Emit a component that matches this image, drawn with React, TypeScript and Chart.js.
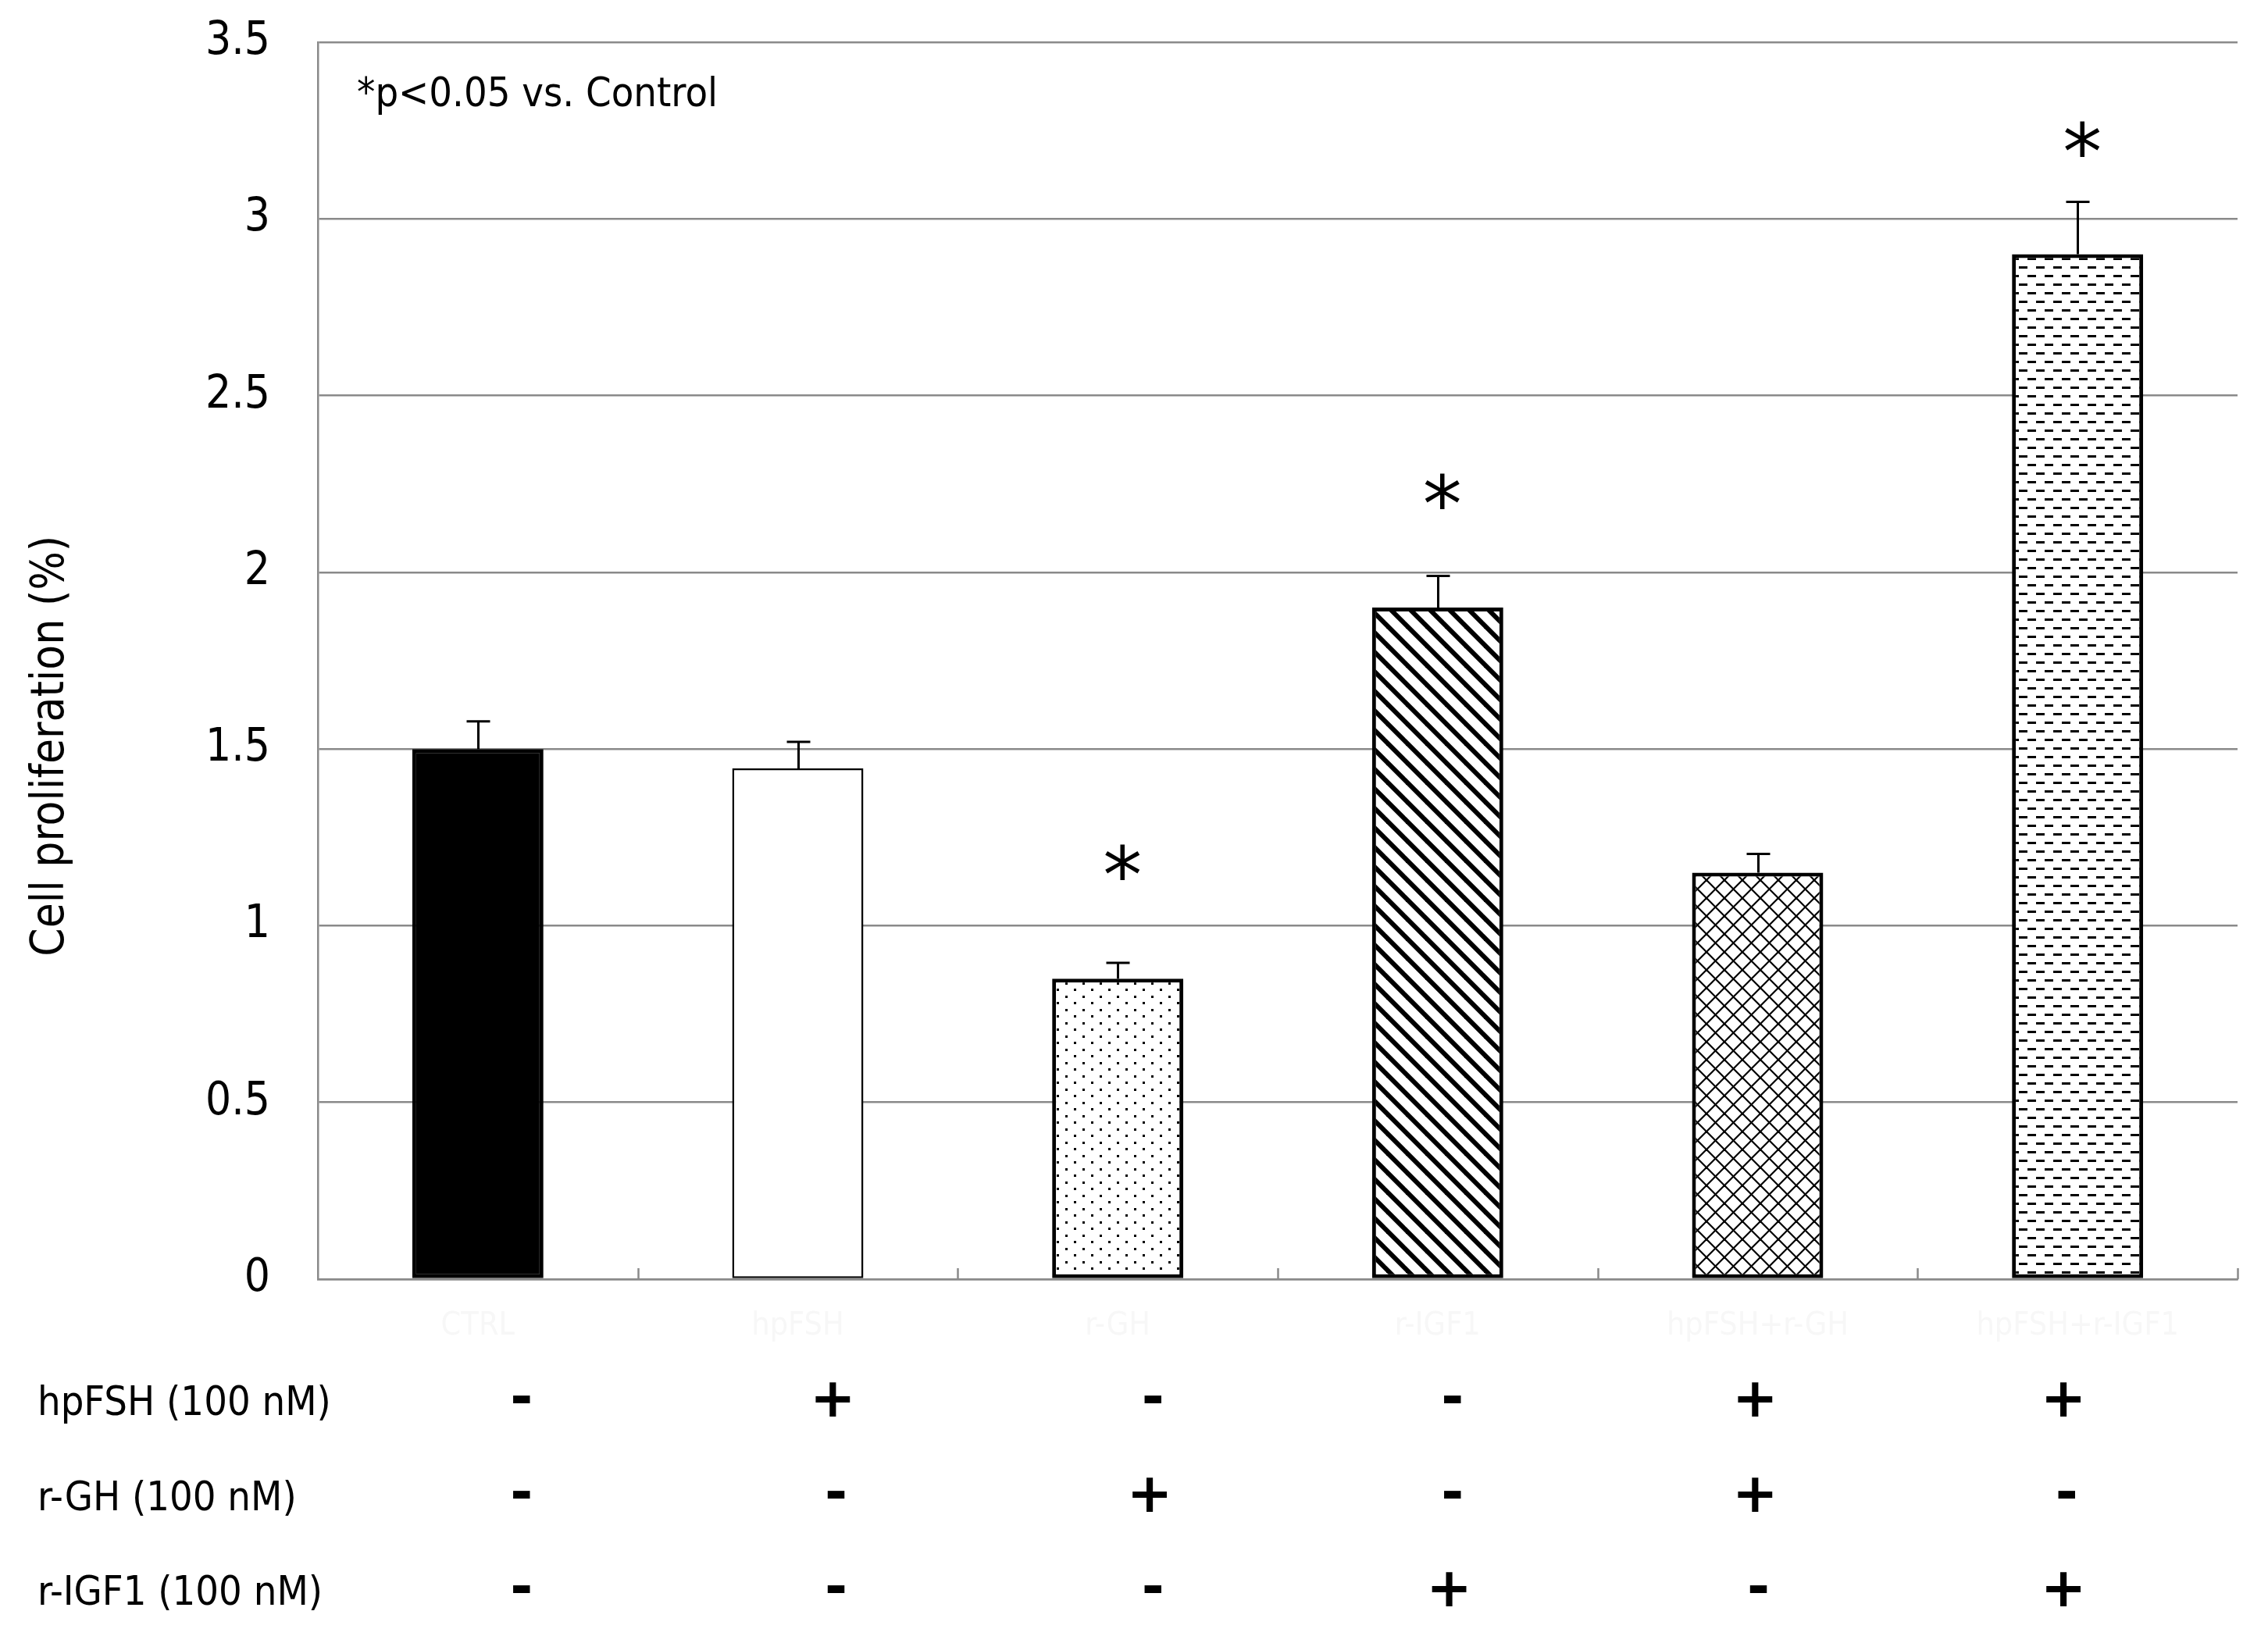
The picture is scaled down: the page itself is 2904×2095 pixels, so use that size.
import React, { useEffect, useRef } from 'react';
import { Chart, registerables } from 'chart.js';

Chart.register(...registerables);

// ---------------- data ----------------
const categories = ['CTRL', 'hpFSH', 'r-GH', 'r-IGF1', 'hpFSH+r-GH', 'hpFSH+r-IGF1'];
const means = [1.5, 1.445, 0.85, 1.9, 1.15, 2.9];
const errors = [0.078, 0.075, 0.045, 0.09, 0.053, 0.148];
const asteriskLevels = [null, null, 1.18, 2.23, null, 3.225];
const yTickValues = [0, 0.5, 1, 1.5, 2, 2.5, 3, 3.5];
const yTickLabels = ['0', '0.5', '1', '1.5', '2', '2.5', '3', '3.5'];
const treatmentLabels = ['hpFSH (100 nM)', 'r-GH (100 nM)', 'r-IGF1 (100 nM)'];
const hpFSHSigns = ['-', '+', '-', '-', '+', '+'];
const rGHSigns = ['-', '-', '+', '-', '+', '-'];
const rIGF1Signs = ['-', '-', '-', '+', '-', '+'];
const yAxisTitle = 'Cell proliferation (%)';
const noteText = '*p<0.05 vs. Control';

// ---------------- layout / style ----------------
const W = 2904;
const H = 2095;
const COND = "'DejaVu Sans Condensed', 'DejaVu Sans', sans-serif";
const GRID = '#8a8a8a';
// horizontal shift of the treatment-table columns relative to the bar centres (px)
const tableColumnShift = [59, 52, 48, 22, 4, -11];
const tableRowOffsets = [154, 276, 397];

function tile(w: number, h: number, draw: (c: CanvasRenderingContext2D) => void): CanvasPattern | string {
  const cv = document.createElement('canvas');
  cv.width = w;
  cv.height = h;
  const c = cv.getContext('2d');
  if (!c) return 'white';
  c.fillStyle = '#ffffff';
  c.fillRect(0, 0, w, h);
  draw(c);
  return c.createPattern(cv, 'repeat') || 'white';
}

function makeFills(): (CanvasPattern | string)[] {
  const dots = tile(22, 17, (c) => {
    c.fillStyle = '#000';
    c.fillRect(0, 0, 3, 3);
    c.fillRect(11, 8, 3, 3);
  });
  const stripes = tile(25, 25, (c) => {
    c.strokeStyle = '#000';
    c.lineWidth = 6;
    for (const k of [-1, 0, 1]) {
      c.beginPath();
      c.moveTo(k * 25 - 5, -5);
      c.lineTo(k * 25 + 30, 30);
      c.stroke();
    }
  });
  const cross = tile(23, 23, (c) => {
    c.strokeStyle = '#000';
    c.lineWidth = 2.2;
    for (const k of [-1, 0, 1]) {
      c.beginPath();
      c.moveTo(k * 23 - 3, -3);
      c.lineTo(k * 23 + 26, 26);
      c.stroke();
      c.beginPath();
      c.moveTo(k * 23 + 26, -3);
      c.lineTo(k * 23 - 3, 26);
      c.stroke();
    }
  });
  const dashes = tile(22, 22, (c) => {
    c.fillStyle = '#000';
    c.fillRect(0, 0, 11, 3);
    c.fillRect(11, 11, 11, 3);
  });
  return ['#000000', '#ffffff', dots, stripes, cross, dashes];
}

function drawCentered(ctx: CanvasRenderingContext2D, text: string, cx: number, cy: number) {
  const m = ctx.measureText(text);
  const asc = m.actualBoundingBoxAscent;
  const desc = m.actualBoundingBoxDescent;
  const left = m.actualBoundingBoxLeft;
  const right = m.actualBoundingBoxRight;
  ctx.textAlign = 'left';
  ctx.textBaseline = 'alphabetic';
  const x = cx - (right - left) / 2 + left;
  const y = cy + (asc - desc) / 2;
  ctx.fillText(text, x, y);
}

const overlayPlugin = {
  id: 'overlay',
  afterDraw(chart: any) {
    const { ctx, chartArea, scales } = chart;
    const yS = scales.y;
    const { left, right, top, bottom } = chartArea;
    const n = categories.length;
    const step = (right - left) / n;
    ctx.save();

    // inner tick marks on the category axis
    ctx.strokeStyle = GRID;
    ctx.lineWidth = 2.5;
    for (let k = 1; k <= n; k++) {
      const px = Math.round(left + step * k) + 0.5;
      ctx.beginPath();
      ctx.moveTo(px, bottom);
      ctx.lineTo(px, bottom - 14);
      ctx.stroke();
    }

    // error bars
    const meta = chart.getDatasetMeta(0);
    ctx.strokeStyle = '#000';
    ctx.lineWidth = 3;
    meta.data.forEach((bar: any, i: number) => {
      const cx = Math.round(bar.x) + 0.5;
      const y0 = yS.getPixelForValue(means[i]);
      const y1 = yS.getPixelForValue(means[i] + errors[i]);
      ctx.beginPath();
      ctx.moveTo(cx, y0);
      ctx.lineTo(cx, y1);
      ctx.moveTo(cx - 15, y1);
      ctx.lineTo(cx + 15, y1);
      ctx.stroke();
    });

    // significance asterisks
    ctx.fillStyle = '#000';
    ctx.font = "100px 'DejaVu Sans', sans-serif";
    meta.data.forEach((bar: any, i: number) => {
      const lv = asteriskLevels[i];
      if (lv === null || lv === undefined) return;
      drawCentered(ctx, '*', bar.x + 8, yS.getPixelForValue(lv));
    });

    // note
    ctx.font = `52px ${COND}`;
    ctx.textAlign = 'left';
    ctx.textBaseline = 'alphabetic';
    ctx.fillText(noteText, left + 50, top + 82);

    // y-axis title
    ctx.save();
    ctx.translate(66, top + (bottom - top) * 0.569);
    ctx.rotate(-Math.PI / 2);
    ctx.font = `58px ${COND}`;
    ctx.textAlign = 'center';
    ctx.textBaseline = 'middle';
    ctx.fillText(yAxisTitle, 0, 0);
    ctx.restore();

    // treatment table
    const rows = [hpFSHSigns, rGHSigns, rIGF1Signs];
    rows.forEach((signs, r) => {
      const cy = bottom + tableRowOffsets[r];
      ctx.font = `52px ${COND}`;
      ctx.textAlign = 'left';
      ctx.textBaseline = 'alphabetic';
      ctx.fillStyle = '#000';
      ctx.fillText(treatmentLabels[r], 48, cy + 20);
      ctx.font = "bold 70px 'DejaVu Sans', sans-serif";
      signs.forEach((s, i) => {
        const bx = meta.data[i] ? meta.data[i].x : left + step * (i + 0.5);
        drawCentered(ctx, s, bx + tableColumnShift[i], cy);
      });
    });

    ctx.restore();
  },
};

export default function App() {
  const ref = useRef<HTMLCanvasElement | null>(null);

  useEffect(() => {
    document.body.style.margin = '0';
    const canvas = ref.current;
    if (!canvas) return;
    const fills = makeFills();
    const chart = new Chart(canvas, {
      type: 'bar',
      data: {
        labels: categories,
        datasets: [
          {
            data: means,
            backgroundColor: fills as any,
            borderColor: '#000000',
            borderWidth: [5, 2.5, 5, 5, 5, 5] as any,
            borderSkipped: false,
            categoryPercentage: 0.41,
            barPercentage: 1,
          },
        ],
      },
      options: {
        responsive: false,
        animation: false,
        devicePixelRatio: 1,
        layout: { padding: { top: 54, right: 39, left: 0, bottom: 0 } },
        plugins: {
          legend: { display: false },
          tooltip: { enabled: false },
          title: { display: false },
        },
        scales: {
          x: {
            grid: { display: false, drawTicks: false },
            border: { display: true, color: GRID, width: 2.5 },
            ticks: {
              color: '#f7f7f7',
              font: { family: COND, size: 41 },
              padding: 36,
              maxRotation: 0,
              autoSkip: false,
            },
            afterFit: (s: any) => {
              s.height = H - 1638;
            },
          },
          y: {
            min: 0,
            max: 3.5,
            afterBuildTicks: (s: any) => {
              s.ticks = yTickValues.map((v) => ({ value: v }));
            },
            grid: { color: GRID, lineWidth: 2.5, drawTicks: false },
            border: { display: true, color: GRID, width: 2.5 },
            ticks: {
              color: '#000',
              font: { family: COND, size: 58 },
              padding: 61,
              callback: (v: any) => {
                const idx = yTickValues.indexOf(Number(v));
                return idx >= 0 ? yTickLabels[idx] : '';
              },
            },
            afterFit: (s: any) => {
              s.width = 407;
              s.paddingTop = 0;
              s.paddingBottom = 0;
            },
          },
        },
      },
      plugins: [overlayPlugin],
    });
    return () => chart.destroy();
  }, []);

  return (
    <canvas
      ref={ref}
      width={W}
      height={H}
      style={{ display: 'block', width: W, height: H }}
    />
  );
}
